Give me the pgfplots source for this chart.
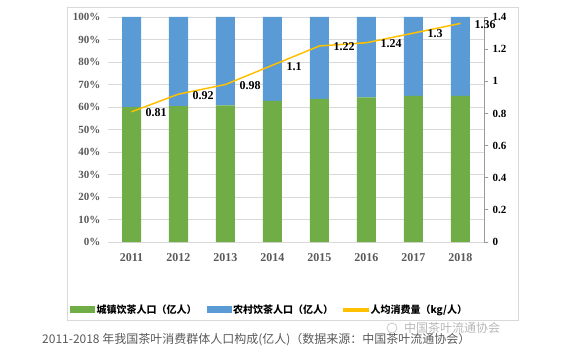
\documentclass[border=0pt]{standalone}
\usepackage{pgfplots}
\pgfplotsset{compat=1.18}
\usepackage{fontspec}
\setmainfont{Liberation Serif}
\newfontfamily\cjk{Noto Sans CJK SC}
\definecolor{cgreen}{HTML}{70AD47}
\definecolor{cblue}{HTML}{5B9BD5}
\definecolor{corange}{HTML}{FFC000}
\definecolor{cgrid}{HTML}{D9D9D9}
\definecolor{ctext}{HTML}{595959}
\begin{document}
\begin{tikzpicture}[x=1pt,y=1pt]
\path[use as bounding box] (0,0) rectangle (573,357);
\draw[cgrid, line width=0.8pt] (67,37) rectangle (518,350);
\begin{axis}[
  at={(108pt,115pt)}, anchor=south west,
  scale only axis, width=376pt, height=225pt,
  xmin=-0.5, xmax=7.5, ymin=0, ymax=100,
  ybar stacked, bar width=19pt,
  axis x line*=bottom, axis y line*=left,
  axis line style={draw=none}, major tick length=0pt, tick style={draw=none},
  ytick={0,10,...,100}, ymajorgrids, grid style={cgrid, line width=0.8pt},
  xtick={0,...,7}, xticklabels={2011,2012,2013,2014,2015,2016,2017,2018},
  yticklabel={\pgfmathprintnumber{\tick}\%},
  /pgf/number format/assume math mode=true,
  ticklabel style={font=\fontsize{11}{11}\selectfont\bfseries, text=ctext},
  xticklabel style={yshift=-8pt, font=\fontsize{12}{12}\selectfont\bfseries},
  yticklabel style={xshift=-4pt},
]
\addplot[fill=cgreen, draw=none]
  coordinates {(0,59.9) (1,60.4) (2,60.7) (3,62.7) (4,63.6) (5,64.3) (6,64.9) (7,64.9)};
\addplot[fill=cblue, draw=none]
  coordinates {(0,40.1) (1,39.6) (2,39.3) (3,37.3) (4,36.4) (5,35.7) (6,35.1) (7,35.1)};
\end{axis}
\begin{axis}[
  at={(108pt,115pt)}, anchor=south west,
  scale only axis, width=376pt, height=225pt,
  xmin=-0.5, xmax=7.5, ymin=0, ymax=1.4,
  axis x line=none, axis y line*=right,
  ytick={0,0.2,...,1.4},
  y axis line style={draw=gray!80, line width=0.8pt},
  tick style={draw=gray!80, line width=0.8pt},
  tick align=outside, major tick length=4pt,
  /pgf/number format/assume math mode=true,
  yticklabel style={font=\fontsize{11}{11}\selectfont\bfseries, text=black, xshift=1pt},
  legend style={at={(0.43,-0.30)}, anchor=center, draw=none, fill=none,
    legend columns=3, font=\cjk\bfseries\fontsize{10}{10}\selectfont,
    /tikz/every even column/.append style={column sep=8pt}},
  legend cell align=left,
]
\addlegendimage{legend image code/.code={\fill[cgreen] (0pt,-3pt) rectangle (24pt,3pt);}}
\addlegendentry{城镇饮茶人口（亿人）}
\addlegendimage{legend image code/.code={\fill[cblue] (0pt,-3pt) rectangle (24pt,3pt);}}
\addlegendentry{农村饮茶人口（亿人）}
\addlegendimage{legend image code/.code={\fill[corange] (0pt,-1.2pt) rectangle (25pt,1.2pt);}}
\addlegendentry{人均消费量（kg/人）}
\addplot[corange, line width=1.5pt, mark=none, nodes near coords,
  nodes near coords style={anchor=west, xshift=10pt, yshift=-1pt, text=black, font=\fontsize{12}{12}\selectfont\bfseries}]
  coordinates {(0,0.81) (1,0.92) (2,0.98) (3,1.1) (4,1.22) (5,1.24) (6,1.3) (7,1.36)};
\end{axis}
\node[anchor=west, text=ctext, font=\fontsize{12}{12}\selectfont\cjk, inner sep=0pt] at (42,17) {2011-2018 年我国茶叶消费群体人口构成(亿人)（数据来源：中国茶叶流通协会）};
\draw[gray!60, line width=0.8pt, opacity=0.7] (392,29) circle (5);
\node[anchor=west, text=gray!70, opacity=0.8, font=\fontsize{12}{12}\selectfont\cjk, inner sep=0pt] at (404,29) {中国茶叶流通协会};
\end{tikzpicture}
\end{document}
